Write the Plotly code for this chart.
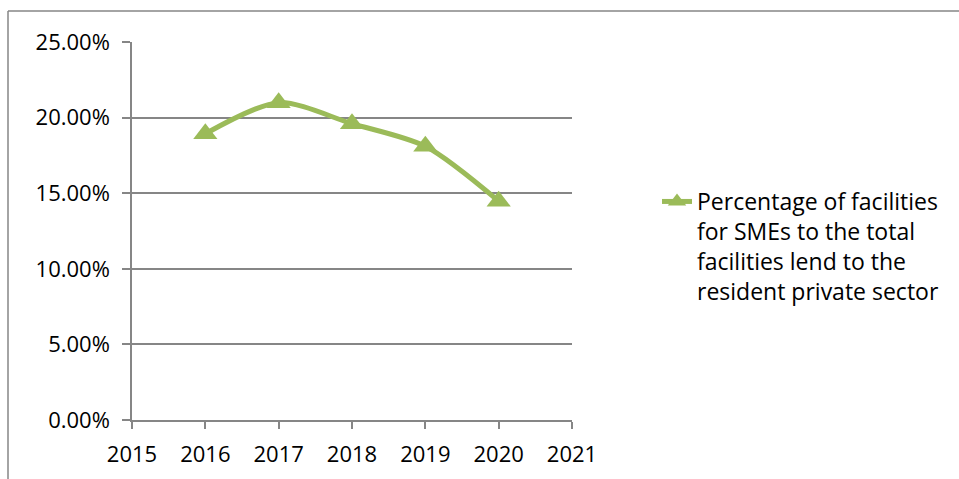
import plotly.graph_objects as go

years = [2016, 2017, 2018, 2019, 2020]
share = [0.1893, 0.2099, 0.1960, 0.1810, 0.1447]
series_name = "Percentage of facilities<br>for SMEs to the total<br>facilities lend to the<br>resident private sector"
y_ticks = [0, 0.05, 0.10, 0.15, 0.20, 0.25]
x_ticks = [2015, 2016, 2017, 2018, 2019, 2020, 2021]

W, H = 959, 479
L, R, T, B = 132, 572, 42, 420

green = "#9BBB59"
gray = "#868686"
font = "Open Sans"
fs = 22

fig = go.Figure()
fig.add_trace(go.Scatter(
    x=years, y=share, name=series_name, mode="lines+markers",
    line=dict(color=green, width=5, shape="spline", smoothing=0.8),
    marker=dict(symbol="triangle-up", size=21, color=green),
    showlegend=True,
))

def px_x(p):
    return (p - L) / (R - L)

def px_y(p):
    return (B - p) / (B - T)

fig.update_layout(
    width=W, height=H,
    margin=dict(l=L, r=W - R, t=T, b=H - B),
    paper_bgcolor="white", plot_bgcolor="white",
    font=dict(family=font, size=fs, color="black"),
    showlegend=True,
    legend=dict(x=px_x(657), xanchor="left", y=px_y(180), yanchor="top",
                valign="top", font=dict(size=23, family=font), bgcolor="rgba(0,0,0,0)"),
    xaxis=dict(range=[2015, 2021], tickvals=x_ticks, ticktext=[str(v) for v in x_ticks],
               showgrid=False, showline=True, linecolor=gray, linewidth=1.5,
               ticks="outside", ticklen=7, tickcolor=gray, tickwidth=1.5,
               ticklabelstandoff=7, zeroline=False,
               tickfont=dict(size=fs, family=font)),
    yaxis=dict(range=[0, 0.25], tickvals=y_ticks, tickformat=".2%",
               showgrid=True, gridcolor=gray, gridwidth=1.5,
               showline=True, linecolor=gray, linewidth=1.5,
               ticks="outside", ticklen=8, tickcolor=gray, tickwidth=1.5,
               ticklabelstandoff=8, zeroline=False,
               tickfont=dict(size=fs, family=font)),
    shapes=[
        dict(type="line", xref="paper", yref="paper",
             x0=px_x(8), x1=px_x(8), y0=px_y(11), y1=px_y(490),
             line=dict(color=gray, width=1.5)),
        dict(type="line", xref="paper", yref="paper",
             x0=px_x(8), x1=px_x(970), y0=px_y(11), y1=px_y(11),
             line=dict(color=gray, width=1.5)),
    ],
)

fig.write_html("out.html")
